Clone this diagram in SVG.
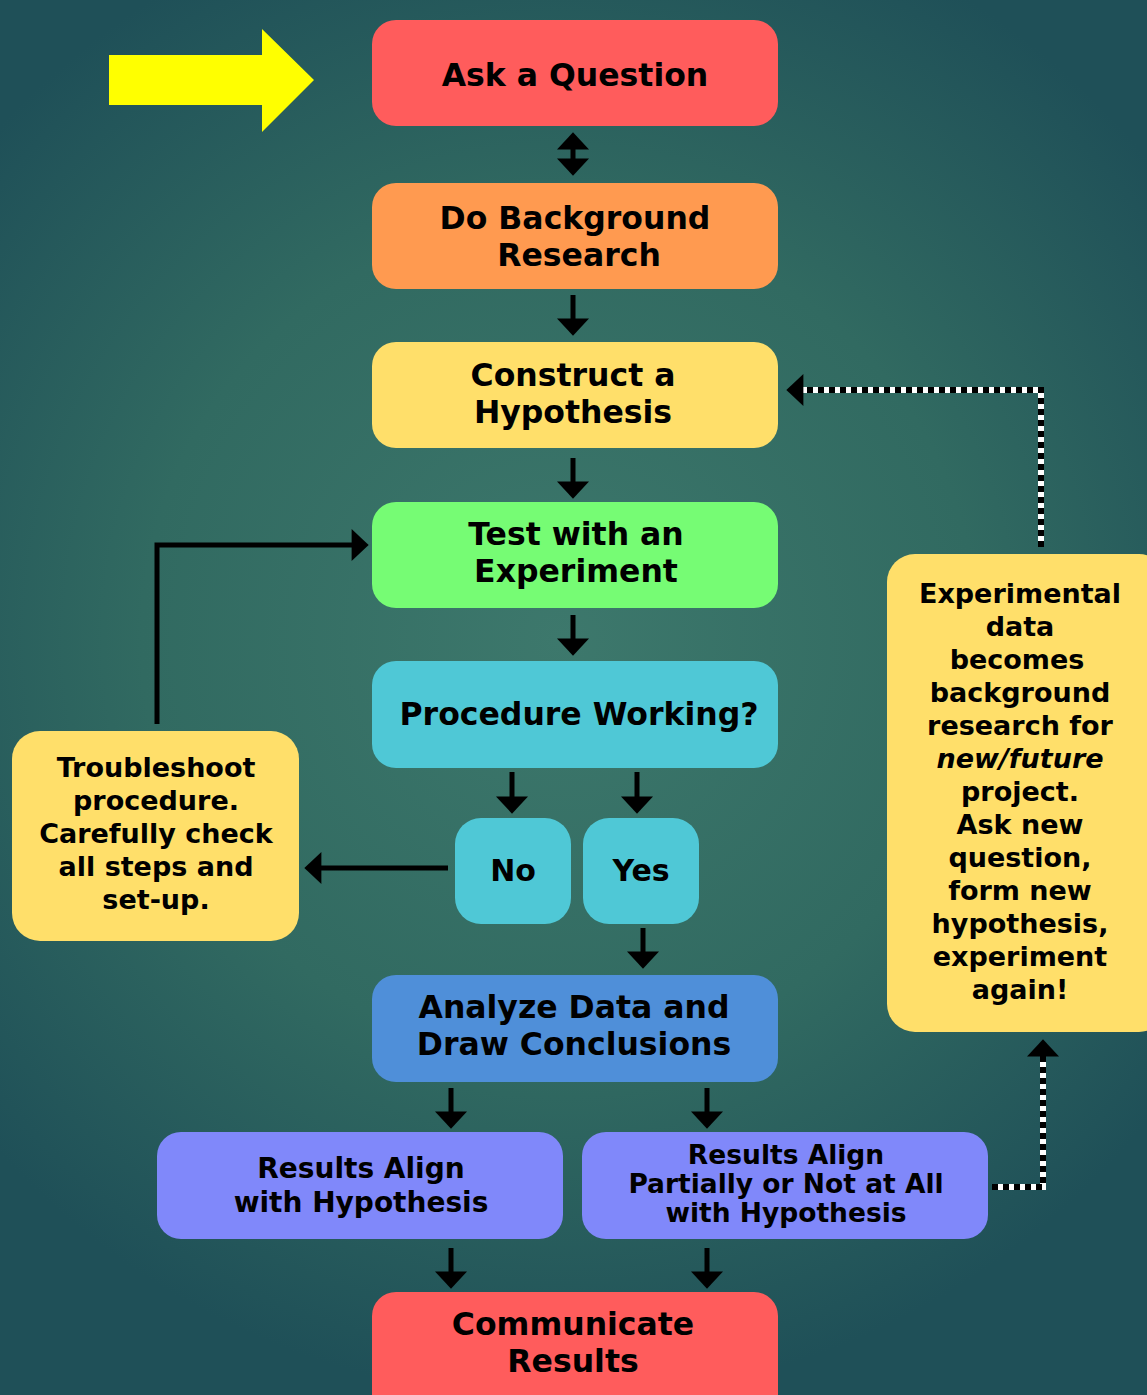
<svg xmlns="http://www.w3.org/2000/svg" width="1147" height="1395" viewBox="0 0 1147 1395">
<defs>
<radialGradient id="bg" cx="560" cy="640" r="760" gradientUnits="userSpaceOnUse">
<stop offset="0" stop-color="#3d786c"/>
<stop offset="0.55" stop-color="#316a61"/>
<stop offset="1" stop-color="#1f5058"/>
</radialGradient>
<marker id="ah" markerUnits="userSpaceOnUse" markerWidth="18" markerHeight="32" viewBox="0 0 16 30" refX="6" refY="15" orient="auto-start-reverse">
<path d="M0,0 L16,15 L0,30 Z" fill="#000"/>
</marker>
<style>
.t{font-family:"DejaVu Sans","Verdana",sans-serif;font-weight:bold;fill:#000;text-anchor:middle}
.big{font-size:31.5px}
.mid{font-size:28px}
.pm{font-size:26.5px}
.sm{font-size:27px}
.c{fill:none;stroke:#000;stroke-width:5}
.dw{fill:none;stroke:#fff;stroke-width:6}
.db{fill:none;stroke:#000;stroke-width:6;stroke-dasharray:6 5}
</style>
</defs>
<rect width="1147" height="1395" fill="url(#bg)"/>

<polygon points="109,55 262,55 262,29 314,80 262,132 262,105 109,105" fill="#ffff00"/>

<g id="connectors">
<path class="c" d="M573,143 V165" marker-start="url(#ah)" marker-end="url(#ah)"/>
<path class="c" d="M573,295 V325" marker-end="url(#ah)"/>
<path class="c" d="M573,458 V488" marker-end="url(#ah)"/>
<path class="c" d="M573,615 V645" marker-end="url(#ah)"/>
<path class="c" d="M512,772 V803" marker-end="url(#ah)"/>
<path class="c" d="M637,772 V803" marker-end="url(#ah)"/>
<path class="c" d="M643,928 V958" marker-end="url(#ah)"/>
<path class="c" d="M451,1088 V1118" marker-end="url(#ah)"/>
<path class="c" d="M707,1088 V1118" marker-end="url(#ah)"/>
<path class="c" d="M451,1248 V1278" marker-end="url(#ah)"/>
<path class="c" d="M707,1248 V1278" marker-end="url(#ah)"/>
<path class="c" d="M448,868 H315" marker-end="url(#ah)"/>
<path class="c" d="M157,724 V545 H358" marker-end="url(#ah)"/>
<path class="dw" d="M992,1187 H1043 V1050"/>
<path class="db" d="M992,1187 H1043 V1050" marker-end="url(#ah)"/>
<path class="dw" d="M1041,547 V390 H797"/>
<path class="db" d="M1041,547 V390 H797" marker-end="url(#ah)"/>
</g>

<g id="ask">
<rect x="372" y="20" width="406" height="106" rx="24" fill="#ff5c5c"/>
<text class="t big" x="575" y="86">Ask a Question</text>
</g>
<g id="background">
<rect x="372" y="183" width="406" height="106" rx="24" fill="#ff9a50"/>
<text class="t big" x="575" y="229">Do Background</text>
<text class="t big" x="579" y="266">Research</text>
</g>
<g id="hypothesis">
<rect x="372" y="342" width="406" height="106" rx="24" fill="#ffdf6a"/>
<text class="t big" x="573" y="386">Construct a</text>
<text class="t big" x="573" y="423">Hypothesis</text>
</g>
<g id="test">
<rect x="372" y="502" width="406" height="106" rx="24" fill="#76fc74"/>
<text class="t big" x="576" y="545">Test with an</text>
<text class="t big" x="576" y="582">Experiment</text>
</g>
<g id="procedure">
<rect x="372" y="661" width="406" height="107" rx="24" fill="#4fc8d6"/>
<text class="t big" x="579" y="725">Procedure Working?</text>
</g>
<g id="no">
<rect x="455" y="818" width="116" height="106" rx="26" fill="#4fc8d6"/>
<text class="t" font-size="30" x="513" y="881">No</text>
</g>
<g id="yes">
<rect x="583" y="818" width="116" height="106" rx="26" fill="#4fc8d6"/>
<text class="t" font-size="30" x="641" y="881">Yes</text>
</g>
<g id="analyze">
<rect x="372" y="975" width="406" height="107" rx="24" fill="#4f8fd9"/>
<text class="t big" x="574" y="1018">Analyze Data and</text>
<text class="t big" x="574" y="1055">Draw Conclusions</text>
</g>
<g id="align">
<rect x="157" y="1132" width="406" height="107" rx="24" fill="#8088fa"/>
<text class="t mid" x="361" y="1178">Results Align</text>
<text class="t mid" x="361" y="1212">with Hypothesis</text>
</g>
<g id="partial">
<rect x="582" y="1132" width="406" height="107" rx="24" fill="#8088fa"/>
<text class="t pm" x="786" y="1164">Results Align</text>
<text class="t pm" x="786" y="1193">Partially or Not at All</text>
<text class="t pm" x="786" y="1222">with Hypothesis</text>
</g>
<g id="communicate">
<rect x="372" y="1292" width="406" height="130" rx="24" fill="#ff5c5c"/>
<text class="t big" x="573" y="1335">Communicate</text>
<text class="t big" x="573" y="1372">Results</text>
</g>
<g id="troubleshoot">
<rect x="12" y="731" width="287" height="210" rx="28" fill="#ffdf6a"/>
<text class="t sm" x="156" y="777">Troubleshoot</text>
<text class="t sm" x="156" y="810">procedure.</text>
<text class="t sm" x="156" y="843">Carefully check</text>
<text class="t sm" x="156" y="876">all steps and</text>
<text class="t sm" x="156" y="909">set-up.</text>
</g>
<g id="experimental">
<rect x="887" y="554" width="280" height="478" rx="28" fill="#ffdf6a"/>
<text class="t sm" x="1020" y="603">Experimental</text>
<text class="t sm" x="1020" y="636">data</text>
<text class="t sm" x="1017" y="669">becomes</text>
<text class="t sm" x="1020" y="702">background</text>
<text class="t sm" x="1020" y="735">research for</text>
<text class="t sm" x="1020" y="768" font-style="italic">new/future</text>
<text class="t sm" x="1020" y="801">project.</text>
<text class="t sm" x="1020" y="834">Ask new</text>
<text class="t sm" x="1020" y="867">question,</text>
<text class="t sm" x="1020" y="900">form new</text>
<text class="t sm" x="1020" y="933">hypothesis,</text>
<text class="t sm" x="1020" y="966">experiment</text>
<text class="t sm" x="1020" y="999">again!</text>
</g>
</svg>
